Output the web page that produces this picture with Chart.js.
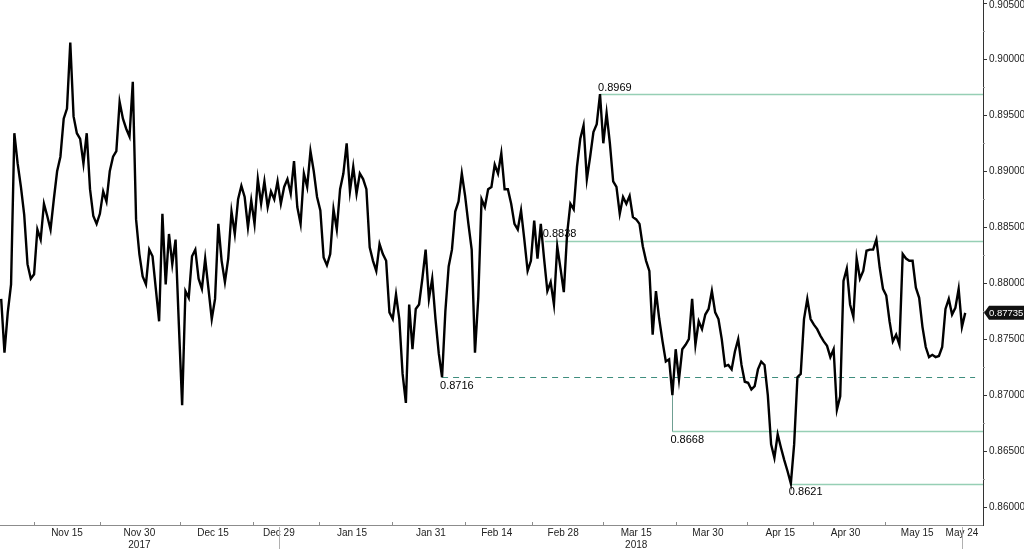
<!DOCTYPE html>
<html>
<head>
<meta charset="utf-8">
<script src="https://cdn.jsdelivr.net/npm/chart.js@4.4.0/dist/chart.umd.min.js"></script>
<style>
    html, body { margin: 0; padding: 0; background: #fff; }
    #wrap { width: 1024px; height: 549px; }
</style>
</head>
<body>
<div id="wrap"><canvas id="chart" width="1024" height="549"></canvas></div>
<script>
// x = trading days since 1 Nov 2017, one price every half day
const dayStep = 0.5;
const prices = [
    0.8786, 0.8738, 0.8774, 0.8799, 0.8934, 0.8907, 0.8886, 0.8861, 0.8817, 0.8804,
    0.8808, 0.8848, 0.8839, 0.8871, 0.8860, 0.8848, 0.8875, 0.8900, 0.8913, 0.8947,
    0.8956, 0.9015, 0.8949, 0.8934, 0.8929, 0.8907, 0.8934, 0.8884, 0.8860, 0.8853,
    0.8862, 0.8882, 0.8873, 0.8900, 0.8913, 0.8918, 0.8962, 0.8947, 0.8938, 0.8931,
    0.8980, 0.8857, 0.8826, 0.8806, 0.8799, 0.8830, 0.8824, 0.8795, 0.8766, 0.8862,
    0.8799, 0.8844, 0.8817, 0.8839, 0.8763, 0.8691, 0.8793, 0.8787, 0.8824, 0.8830,
    0.8804, 0.8795, 0.8822, 0.8795, 0.8768, 0.8786, 0.8853, 0.8820, 0.8801, 0.8822,
    0.8864, 0.8844, 0.8875, 0.8887, 0.8877, 0.8850, 0.8874, 0.8853, 0.8893, 0.8871,
    0.8891, 0.8868, 0.8882, 0.8875, 0.8891, 0.8871, 0.8886, 0.8893, 0.8880, 0.8909,
    0.8868, 0.8853, 0.8898, 0.8886, 0.8918, 0.8900, 0.8877, 0.8865, 0.8823, 0.8816,
    0.8826, 0.8866, 0.8848, 0.8884, 0.8898, 0.8925, 0.8882, 0.8904, 0.8880, 0.8898,
    0.8893, 0.8884, 0.8832, 0.8820, 0.8811, 0.8835, 0.8826, 0.8820, 0.8774, 0.8768,
    0.8790, 0.8768, 0.8719, 0.8693, 0.8781, 0.8741, 0.8777, 0.8781, 0.8804, 0.8830,
    0.8786, 0.8804, 0.8768, 0.8737, 0.8716, 0.8775, 0.8815, 0.8830, 0.8864, 0.8873,
    0.8898, 0.8878, 0.8853, 0.8830, 0.8738, 0.8787, 0.8875, 0.8868, 0.8884, 0.8886,
    0.8906, 0.8898, 0.8916, 0.8884, 0.8884, 0.8871, 0.8853, 0.8848, 0.8865, 0.8839,
    0.8811, 0.8820, 0.8856, 0.8822, 0.8853, 0.8822, 0.8793, 0.8801, 0.8781, 0.8833,
    0.8813, 0.8792, 0.8844, 0.8871, 0.8866, 0.8904, 0.8929, 0.8941, 0.8893, 0.8913,
    0.8935, 0.8942, 0.8969, 0.8925, 0.8952, 0.8925, 0.8891, 0.8886, 0.8862, 0.8877,
    0.8871, 0.8878, 0.8859, 0.8857, 0.8853, 0.8833, 0.8820, 0.8811, 0.8754, 0.8793,
    0.8768, 0.8748, 0.8730, 0.8732, 0.8700, 0.8741, 0.8714, 0.8741, 0.8745, 0.8750,
    0.8786, 0.8745, 0.8766, 0.8759, 0.8772, 0.8777, 0.8793, 0.8774, 0.8768, 0.8750,
    0.8726, 0.8727, 0.8723, 0.8739, 0.8750, 0.8727, 0.8712, 0.8711, 0.8705, 0.8708,
    0.8723, 0.8730, 0.8727, 0.8700, 0.8656, 0.8644, 0.8665, 0.8653, 0.8642, 0.8632,
    0.8621, 0.8656, 0.8716, 0.8719, 0.8768, 0.8786, 0.8768, 0.8763, 0.8759, 0.8753,
    0.8748, 0.8744, 0.8734, 0.8741, 0.8687, 0.8699, 0.8802, 0.8813, 0.8781, 0.8770,
    0.8822, 0.8804, 0.8811, 0.8829, 0.8830, 0.8830, 0.8839, 0.8814, 0.8795, 0.8789,
    0.8766, 0.8748, 0.8754, 0.8745, 0.8826, 0.8822, 0.8820, 0.8820, 0.8796, 0.8787,
    0.8761, 0.8743, 0.8734, 0.8736, 0.8734, 0.8735, 0.8743, 0.8777, 0.8786, 0.8772,
    0.8778, 0.8795, 0.8761, 0.87735
];
const lastPrice = 0.87735;

// date labels on the trading-day axis
const tickDays = [10, 21, 32.2, 42.2, 53.3, 65.3, 75.3, 85.4, 96.5, 107.4, 118.4, 128.3, 139.2, 146];
const tickLabels = ["Nov 15", ["Nov 30", "2017"], "Dec 15", "Dec 29", "Jan 15", "Jan 31", "Feb 14",
    "Feb 28", ["Mar 15", "2018"], "Mar 30", "Apr 15", "Apr 30", "May 15", "May 24"];
const minorTickDays = [5, 15, 27.2, 38.3, 48.3, 59.4, 70.5, 80.7, 91.5, 102.6, 113.3, 123.4, 134.3];
const separatorDays = [42.2, 146];

const yTicks = [0.86, 0.865, 0.87, 0.875, 0.88, 0.885, 0.89, 0.895, 0.9, 0.905];

// support / resistance levels
const levelValues = [0.8969, 0.8838, 0.8716, 0.8668, 0.8621];
const levelStartDays = [91, 82.6, 67, 102, 120];
const levelEndDays = [null, null, 148, null, null];
const levelDashed = [false, false, true, false, false];
const levelAbove = [true, true, false, false, false];
const levelFrom = [null, null, null, 0.8700, null];

const levelsPlugin = {
    id: "levels",
    beforeDatasetsDraw(chart) {
        const { ctx, scales: { x, y }, chartArea } = chart;
        ctx.save();
        levelValues.forEach((v, k) => {
            const py = Math.round(y.getPixelForValue(v)) + 0.5;
            const x0 = x.getPixelForValue(levelStartDays[k]);
            const x1 = levelEndDays[k] == null ? chartArea.right : x.getPixelForValue(levelEndDays[k]);
            ctx.strokeStyle = levelDashed[k] ? "#3f8e7e" : "#96cfb5";
            ctx.lineWidth = levelDashed[k] ? 1 : 1.5;
            ctx.setLineDash(levelDashed[k] ? [6, 5] : []);
            ctx.beginPath();
            ctx.moveTo(x0, py);
            ctx.lineTo(x1, py);
            ctx.stroke();
            if (levelFrom[k] != null) {
                ctx.setLineDash([]);
                ctx.lineWidth = 1;
                ctx.strokeStyle = "#6f9f92";
                ctx.beginPath();
                ctx.moveTo(Math.round(x0) + 0.5, y.getPixelForValue(levelFrom[k]));
                ctx.lineTo(Math.round(x0) + 0.5, py);
                ctx.stroke();
            }
        });
        ctx.restore();
    },
    afterDatasetsDraw(chart) {
        const { ctx, scales: { x, y } } = chart;
        ctx.save();
        ctx.font = '11px "Liberation Sans", Arial, sans-serif';
        ctx.fillStyle = "#000";
        ctx.textAlign = "left";
        levelValues.forEach((v, k) => {
            const py = y.getPixelForValue(v);
            const x0 = x.getPixelForValue(levelStartDays[k]) - 2;
            if (levelAbove[k]) {
                ctx.textBaseline = "bottom";
                ctx.fillText(v.toFixed(4), x0, py - 1);
            } else {
                ctx.textBaseline = "top";
                ctx.fillText(v.toFixed(4), x0, py + 3);
            }
        });
        ctx.restore();
    }
};

const axisMarksPlugin = {
    id: "axisMarks",
    afterDraw(chart) {
        const { ctx, scales: { x, y }, chartArea } = chart;
        ctx.save();
        ctx.lineWidth = 1;
        // small ticks on the date axis
        ctx.strokeStyle = "#8c8c8c";
        minorTickDays.forEach(d => {
            const px = Math.round(x.getPixelForValue(d)) + 0.5;
            ctx.beginPath();
            ctx.moveTo(px, chartArea.bottom - 3);
            ctx.lineTo(px, chartArea.bottom);
            ctx.stroke();
        });
        ctx.strokeStyle = "#b0b0b0";
        separatorDays.forEach(d => {
            const px = Math.round(x.getPixelForValue(d)) + 0.5;
            ctx.beginPath();
            ctx.moveTo(px, chartArea.bottom + 2);
            ctx.lineTo(px, chart.height);
            ctx.stroke();
        });
        // price axis ticks, major and minor
        yTicks.forEach(v => {
            const py = Math.round(y.getPixelForValue(v)) + 0.5;
            ctx.strokeStyle = "#333";
            ctx.beginPath();
            ctx.moveTo(chartArea.right, py);
            ctx.lineTo(chartArea.right + 4, py);
            ctx.stroke();
            const pm = Math.round(y.getPixelForValue(v + 0.0025)) + 0.5;
            if (pm > 0) {
                ctx.strokeStyle = "#999";
                ctx.beginPath();
                ctx.moveTo(chartArea.right, pm);
                ctx.lineTo(chartArea.right + 2, pm);
                ctx.stroke();
            }
        });
        // top label would be cut by the canvas edge, so it sits just below it
        const top = yTicks[yTicks.length - 1];
        ctx.fillStyle = "#222";
        ctx.font = '10px "Liberation Sans", Arial, sans-serif';
        ctx.textAlign = "left";
        ctx.textBaseline = "top";
        ctx.fillText(top.toFixed(5), chartArea.right + 6, 0);
        // last price tag
        const ly = y.getPixelForValue(lastPrice);
        const lx = chartArea.right + 1;
        ctx.fillStyle = "#111";
        ctx.beginPath();
        ctx.moveTo(lx, ly);
        ctx.lineTo(lx + 5, ly - 7);
        ctx.lineTo(chart.width, ly - 7);
        ctx.lineTo(chart.width, ly + 7);
        ctx.lineTo(lx + 5, ly + 7);
        ctx.closePath();
        ctx.fill();
        ctx.fillStyle = "#fff";
        ctx.font = '9.5px "Liberation Sans", Arial, sans-serif';
        ctx.textBaseline = "middle";
        ctx.fillText(lastPrice.toFixed(5), lx + 5, ly + 0.5);
        ctx.restore();
    }
};

Chart.defaults.font.family = '"Liberation Sans", Arial, sans-serif';
Chart.defaults.font.size = 10;
Chart.defaults.color = "#222";

const ctx = document.getElementById("chart").getContext("2d");
new Chart(ctx, {
    type: "line",
    data: {
        datasets: [{
            data: prices.map((v, i) => ({ x: i * dayStep, y: v })),
            borderColor: "#000",
            borderWidth: 2.4,
            pointRadius: 0,
            tension: 0
        }]
    },
    options: {
        responsive: false,
        animation: false,
        devicePixelRatio: 1,
        layout: { padding: 0 },
        plugins: { legend: { display: false }, tooltip: { enabled: false } },
        scales: {
            x: {
                type: "linear",
                min: -0.18,
                max: 149.2,
                grid: { display: false, drawTicks: false },
                border: { color: "#8c8c8c", width: 1 },
                afterBuildTicks: s => { s.ticks = tickDays.map(v => ({ value: v })); },
                afterFit: s => { s.height = 24; s.paddingLeft = 0; s.paddingRight = 0; },
                ticks: {
                    autoSkip: false,
                    maxRotation: 0,
                    padding: 2,
                    color: "#222",
                    callback: (v, i) => tickLabels[i]
                }
            },
            y: {
                position: "right",
                min: 0.8584,
                max: 0.9053,
                grid: { display: false, drawTicks: false },
                border: { color: "#333", width: 1 },
                afterBuildTicks: s => { s.ticks = yTicks.map(v => ({ value: v })); },
                afterFit: s => { s.width = 41; s.paddingTop = 0; s.paddingBottom = 0; },
                ticks: {
                    padding: 6,
                    color: "#222",
                    callback: v => (v === yTicks[yTicks.length - 1] ? "" : v.toFixed(5))
                }
            }
        }
    },
    plugins: [levelsPlugin, axisMarksPlugin]
});
</script>
</body>
</html>
